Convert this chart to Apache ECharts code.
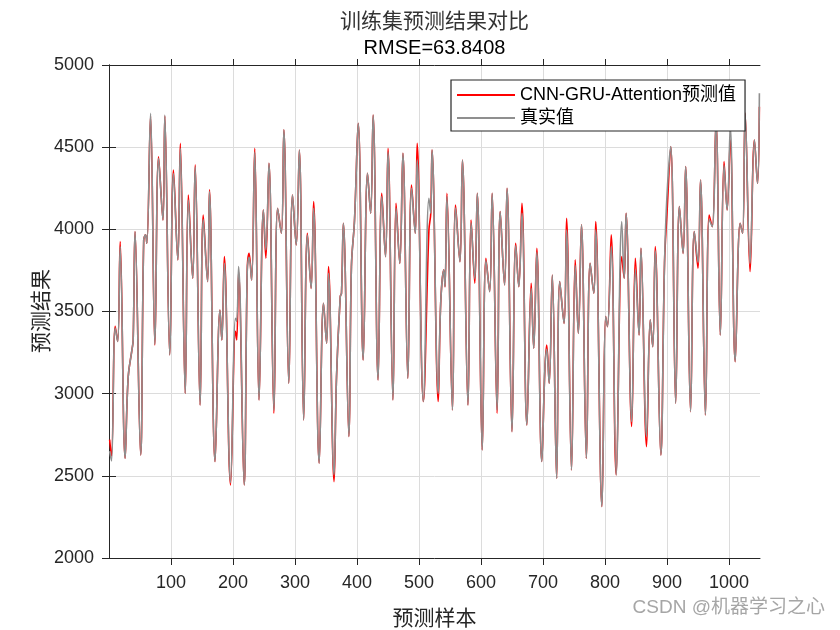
<!DOCTYPE html>
<html>
<head>
<meta charset="utf-8">
<script src="https://cdn.jsdelivr.net/npm/echarts@6/dist/echarts.min.js"></script>
<style>html,body{margin:0;padding:0;background:#fff;}#c{width:840px;height:630px;}</style>
</head>
<body>
<div id="c"></div>
<script>
const sampleIdx = [1,4,10,14,18,26,31,37,39,42,51,56,59,61,67,74,80,87,90,98,104,111,115,123,128,135,139,147,152,159,162,171,179,182,186,196,204,206,209,218,223,226,230,235,242,249,253,258,266,272,278,282,290,296,302,307,314,320,326,330,339,346,351,354,363,367,373,375,378,387,391,396,402,410,417,422,426,434,440,446,450,458,463,469,474,482,488,494,497,507,516,519,521,531,535,540,542,545,554,559,566,570,579,584,590,594,602,608,614,618,626,631,638,642,650,656,661,666,674,681,685,690,698,703,706,710,715,722,727,734,738,746,752,757,762,770,776,782,785,795,801,804,810,818,827,831,834,843,849,855,858,867,873,877,881,890,896,900,906,914,920,926,930,938,944,950,954,962,968,973,979,986,992,997,1002,1010,1018,1022,1026,1034,1041,1046,1049];
const actualVals = [2650,2590,3400,3317,3895,2607,3104,3266,3327,3986,2627,3935,3966,3915,4706,3300,4430,4057,4696,3236,4340,3814,4493,3002,4178,3702,4380,2931,4060,3682,4230,2587,3509,3327,3793,2460,3459,3440,3773,2445,3753,3830,3692,4470,2962,4118,3874,4402,2900,4128,3976,4605,3063,4209,3905,4483,2840,3965,3641,4128,2577,3550,3307,3733,2506,3104,3591,3612,4037,2739,3773,4057,4645,3205,4341,4098,4696,3084,4200,3834,4470,2962,4130,3793,4463,3094,4250,3976,4422,2952,4189,4098,4483,3002,3550,3753,3651,4200,2901,4130,3803,4422,2931,4040,3700,4219,2658,3810,3621,4219,2900,4108,3662,4250,2769,3900,3651,4098,2810,3640,3276,3860,2587,3144,3270,3063,3722,2485,3682,3428,3996,2536,3780,3367,4027,2607,3793,3611,3996,2313,3469,3408,3895,2506,4047,3702,4098,2830,3753,3357,3885,2739,3449,3286,3870,2627,3793,4209,4503,2942,4138,3854,4382,2891,3986,3800,4300,2871,4060,4016,4655,3357,4390,4118,4625,3195,4037,3976,4706,3793,4544,4280,4828];
const predVals = [2720,2620,3410,3317,3925,2607,3104,3266,3327,3986,2627,3935,3966,3915,4690,3296,4442,4057,4690,3236,4361,3814,4523,3002,4209,3702,4392,2931,4087,3682,4240,2587,3509,3327,3834,2445,3380,3327,3740,2445,3753,3854,3692,4493,2962,4118,3824,4402,2881,4128,3976,4605,3063,4209,3905,4483,2840,3976,3641,4169,2577,3550,3307,3773,2465,3104,3591,3612,4037,2739,3773,4057,4645,3205,4341,4098,4696,3084,4219,3834,4493,2962,4159,3793,4463,3094,4270,3976,4523,2952,3996,4098,4483,2952,3550,3753,3651,4219,2901,4148,3803,4422,2931,4057,3672,4219,2658,3824,3621,4219,2881,4108,3662,4250,2769,3915,3651,4159,2810,3672,3276,3885,2587,3144,3296,3063,3722,2485,3682,3428,4067,2536,3814,3367,4027,2607,3793,3611,4047,2313,3469,3408,3966,2506,3834,3702,4098,2800,3824,3357,3885,2678,3449,3286,3895,2627,3793,4098,4503,2942,4138,3854,4382,2891,3986,3763,4300,2871,4087,4016,4655,3357,4412,4118,4544,3195,4037,3976,4706,3743,4544,4280,4746];
const xTicks = [100,200,300,400,500,600,700,800,900,1000];
const yTicks = [2000,2500,3000,3500,4000,4500,5000];
const seriesNames = ['CNN-GRU-Attention预测值','真实值'];
const titleText = '训练集预测结果对比';
const subTitleText = 'RMSE=63.8408';
const xName = '预测样本';
const yName = '预测结果';
const watermark = 'CSDN @机器学习之心';

const FONT = "'Liberation Sans', Arial, 'Noto Sans CJK SC', sans-serif";
const TXT = '#262626';
const pairs = (vals) => sampleIdx.map((x, i) => [x, vals[i]]);

const chart = echarts.init(document.getElementById('c'), null, {renderer: 'canvas'});
const axisCommon = {
  axisLine: {show: true, lineStyle: {color: TXT, width: 1}},
  axisTick: {show: true, inside: false, length: 6, lineStyle: {color: TXT}},
};
chart.setOption({
  animation: false,
  backgroundColor: '#ffffff',
  grid: {left: 109, top: 65, width: 651, height: 493, containLabel: false},
  xAxis: [
    Object.assign({}, axisCommon, {
      type: 'value', min: 0, max: 1050, interval: 100, position: 'bottom',
      axisTick: {show: true, inside: false, length: 7, lineStyle: {color: TXT}, customValues: xTicks},
      axisLabel: {color: TXT, fontFamily: FONT, fontSize: 18, margin: 16, customValues: xTicks,
        formatter: v => (xTicks.indexOf(v) >= 0 ? String(v) : '')},
      splitLine: {show: true, lineStyle: {color: '#dcdcdc', width: 1}}
    }),
    Object.assign({}, axisCommon, {
      type: 'value', min: 0, max: 1050, interval: 100, position: 'top',
      axisTick: {show: true, inside: false, length: 6, lineStyle: {color: TXT}, customValues: xTicks},
      axisLabel: {show: false}, splitLine: {show: false}
    })
  ],
  yAxis: [
    Object.assign({}, axisCommon, {
      type: 'value', min: 2000, max: 5000, interval: 500, position: 'left',
      axisTick: {show: true, inside: false, length: 7, lineStyle: {color: TXT}},
      axisLabel: {color: TXT, fontFamily: FONT, fontSize: 18, margin: 15,
        formatter: v => (yTicks.indexOf(v) >= 0 ? String(v) : '')},
      splitLine: {show: true, lineStyle: {color: '#dcdcdc', width: 1}}
    }),
    Object.assign({}, axisCommon, {
      type: 'value', min: 2000, max: 5000, interval: 500, position: 'right',
      axisTick: {show: true, inside: false, length: 7, lineStyle: {color: TXT}},
      axisLabel: {show: false}, splitLine: {show: false}
    })
  ],
  legend: {
    left: 451, top: 80, orient: 'vertical',
    itemWidth: 58, itemHeight: 2, itemGap: 3,
    padding: [5, 9, 3, 6],
    borderColor: '#262626', borderWidth: 1.2, backgroundColor: '#ffffff',
    textStyle: {fontFamily: FONT, fontSize: 18, color: '#000', lineHeight: 20},
    data: [{name: seriesNames[0], icon: 'rect'}, {name: seriesNames[1], icon: 'rect'}]
  },
  series: [
    {name: seriesNames[0], type: 'line', data: pairs(predVals), showSymbol: false, symbol: 'none',
     smooth: 0.4, lineStyle: {color: '#ff0000', width: 1.6}, itemStyle: {color: '#ff0000'}, z: 2},
    {name: seriesNames[1], type: 'line', data: pairs(actualVals), showSymbol: false, symbol: 'none',
     smooth: 0.4, lineStyle: {color: '#8f8f8f', width: 1.6}, itemStyle: {color: '#8f8f8f'}, z: 3}
  ],
  graphic: [
    {type: 'text', x: 434.5, y: 20, style: {text: titleText, textAlign: 'center', textVerticalAlign: 'middle',
      font: "21px 'Noto Sans CJK SC'", fill: '#333333'}},
    {type: 'text', x: 434.5, y: 48, style: {text: subTitleText, textAlign: 'center', textVerticalAlign: 'middle',
      font: "20px 'Liberation Sans'", fill: '#000000'}},
    {type: 'text', x: 434.5, y: 617, style: {text: xName, textAlign: 'center', textVerticalAlign: 'middle',
      font: "21px 'Noto Sans CJK SC'", fill: TXT}},
    {type: 'text', x: 40, y: 311, rotation: Math.PI / 2, style: {text: yName, textAlign: 'center', textVerticalAlign: 'middle',
      font: "21px 'Noto Sans CJK SC'", fill: TXT}},
    {type: 'text', x: 825, y: 608, style: {text: watermark, textAlign: 'right', textVerticalAlign: 'middle',
      font: "19px 'Liberation Sans', 'Noto Sans CJK SC'", fill: '#a6a6a6'}}
  ]
});
</script>
</body>
</html>
